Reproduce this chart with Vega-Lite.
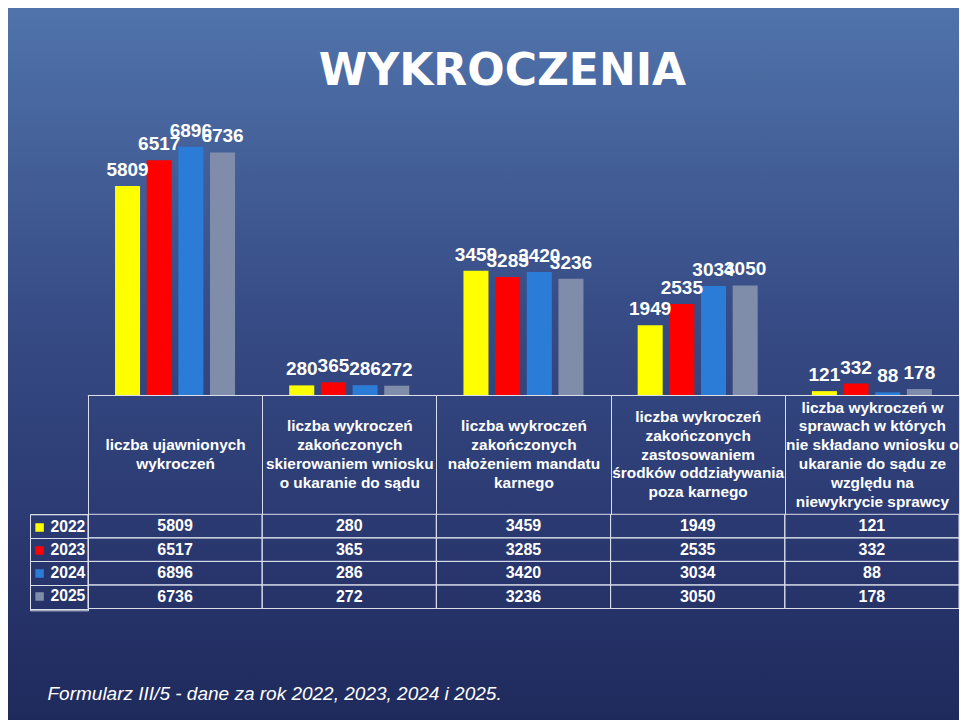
{
  "$schema": "https://vega.github.io/schema/vega-lite/v6.json",
  "width": 960,
  "height": 720,
  "autosize": {"type": "fit", "contains": "padding"},
  "padding": {"top": 8, "left": 8, "right": 0, "bottom": 0},
  "background": "white",
  "config": {
    "view": {
      "stroke": null,
      "fill": {
        "gradient": "linear", "x1": 0, "y1": 0, "x2": 0, "y2": 1,
        "stops": [
          {"offset": 0, "color": "#5073ab"},
          {"offset": 0.45, "color": "#364a84"},
          {"offset": 0.75, "color": "#2a3870"},
          {"offset": 1, "color": "#1f2a5c"}
        ]
      }
    },
    "font": "Liberation Sans"
  },
  "title": {
    "text": "WYKROCZENIA",
    "font": "DejaVu Sans",
    "fontSize": 44,
    "fontWeight": "bold",
    "color": "white",
    "anchor": "middle",
    "baseline": "alphabetic",
    "offset": -121,
    "dx": 19
  },
  "data": {
    "values": [
      {"category": "liczba ujawnionych\nwykroczeń", "year": "2022", "value": 5809},
      {"category": "liczba ujawnionych\nwykroczeń", "year": "2023", "value": 6517},
      {"category": "liczba ujawnionych\nwykroczeń", "year": "2024", "value": 6896},
      {"category": "liczba ujawnionych\nwykroczeń", "year": "2025", "value": 6736},
      {"category": "liczba wykroczeń\nzakończonych\nskierowaniem wniosku\no ukaranie do sądu", "year": "2022", "value": 280},
      {"category": "liczba wykroczeń\nzakończonych\nskierowaniem wniosku\no ukaranie do sądu", "year": "2023", "value": 365},
      {"category": "liczba wykroczeń\nzakończonych\nskierowaniem wniosku\no ukaranie do sądu", "year": "2024", "value": 286},
      {"category": "liczba wykroczeń\nzakończonych\nskierowaniem wniosku\no ukaranie do sądu", "year": "2025", "value": 272},
      {"category": "liczba wykroczeń\nzakończonych\nnałożeniem mandatu\nkarnego", "year": "2022", "value": 3459},
      {"category": "liczba wykroczeń\nzakończonych\nnałożeniem mandatu\nkarnego", "year": "2023", "value": 3285},
      {"category": "liczba wykroczeń\nzakończonych\nnałożeniem mandatu\nkarnego", "year": "2024", "value": 3420},
      {"category": "liczba wykroczeń\nzakończonych\nnałożeniem mandatu\nkarnego", "year": "2025", "value": 3236},
      {"category": "liczba wykroczeń\nzakończonych\nzastosowaniem\nśrodków oddziaływania\npoza karnego", "year": "2022", "value": 1949},
      {"category": "liczba wykroczeń\nzakończonych\nzastosowaniem\nśrodków oddziaływania\npoza karnego", "year": "2023", "value": 2535},
      {"category": "liczba wykroczeń\nzakończonych\nzastosowaniem\nśrodków oddziaływania\npoza karnego", "year": "2024", "value": 3034},
      {"category": "liczba wykroczeń\nzakończonych\nzastosowaniem\nśrodków oddziaływania\npoza karnego", "year": "2025", "value": 3050},
      {"category": "liczba wykroczeń w\nsprawach w których\nnie składano wniosku o\nukaranie do sądu ze\nwzględu na\nniewykrycie sprawcy", "year": "2022", "value": 121},
      {"category": "liczba wykroczeń w\nsprawach w których\nnie składano wniosku o\nukaranie do sądu ze\nwzględu na\nniewykrycie sprawcy", "year": "2023", "value": 332},
      {"category": "liczba wykroczeń w\nsprawach w których\nnie składano wniosku o\nukaranie do sądu ze\nwzględu na\nniewykrycie sprawcy", "year": "2024", "value": 88},
      {"category": "liczba wykroczeń w\nsprawach w których\nnie składano wniosku o\nukaranie do sądu ze\nwzględu na\nniewykrycie sprawcy", "year": "2025", "value": 178}
    ]
  },
  "layer": [
    {
      "encoding": {
        "x": {
          "field": "category", "type": "nominal", "sort": null,
          "scale": {"paddingInner": 0, "paddingOuter": 0.2294, "align": 1},
          "axis": {
            "orient": "bottom", "offset": -324.5, "domain": false, "grid": false,
            "ticks": true, "tickBand": "extent", "tickSize": 119, "tickColor": "#d9dee9", "tickWidth": 1,
            "labels": true,
            "labelExpr": "datum.value ? split(slice('\u200b\\n\u200b\\n\u200b\\n\u200b\\n\u200b\\n', 0, 2 * (6 - length(split(datum.value, '\\n')))) + replace(datum.value, regexp('\\n', 'g'), '\\n\u200b\\n'), '\\n') : ''",
            "labelPadding": -107.5,
            "labelBaseline": "middle", "labelLineHeight": 9.4, "labelAngle": 0,
            "labelFont": "Liberation Sans", "labelFontWeight": "bold", "labelFontSize": 15.4, "labelColor": "white",
            "labelLimit": 0, "labelOverlap": false, "labelBound": false, "labelFlush": false,
            "title": null
          }
        }
      },
      "layer": [
        {
          "mark": {"type": "bar"},
          "encoding": {
            "xOffset": {"field": "year", "type": "nominal", "scale": {"paddingInner": 0.21, "paddingOuter": 0.856}},
            "y": {"field": "value", "type": "quantitative", "scale": {"domain": [-8994, 10740], "nice": false, "zero": false}, "axis": null},
            "color": {
              "field": "year", "type": "nominal",
              "scale": {"domain": ["2022", "2023", "2024", "2025"], "range": ["#ffff00", "#ff0000", "#2b7cd6", "#7f8daa"]},
              "legend": {
                "orient": "none", "legendX": 22, "legendY": 506.3, "title": null,
                "symbolType": "square", "symbolSize": 72, "symbolStrokeWidth": 0, "symbolOpacity": 1,
                "labelColor": "white", "labelFont": "Liberation Sans", "labelFontWeight": "bold", "labelFontSize": 15.7,
                "labelOffset": 3, "clipHeight": 22.7, "rowPadding": 0, "padding": 1.75,
                "strokeColor": "#d9dee9"
              }
            }
          }
        },
        {
          "mark": {"type": "text", "color": "white", "font": "Liberation Sans", "fontWeight": "bold", "fontSize": 19, "baseline": "alphabetic", "dy": -10},
          "encoding": {
            "xOffset": {"field": "year", "type": "nominal"},
            "y": {"field": "value", "type": "quantitative"},
            "text": {"field": "value", "type": "quantitative"}
          }
        },
        {
          "transform": [{"filter": "datum.year == '2022'"}],
          "mark": {"type": "bar", "fillOpacity": 0, "stroke": "#d9dee9", "strokeWidth": 1},
          "encoding": {
            "y": {"datum": 0, "type": "quantitative"},
            "y2": {"datum": 0}
          }
        }
      ]
    },
    {
      "encoding": {
        "x": {
          "field": "category", "type": "nominal", "sort": null,
          "axis": {
            "orient": "bottom", "offset": -21, "domain": false, "ticks": false, "labels": false, "grid": false,
            "title": "Formularz III/5 - dane za rok 2022, 2023, 2024 i 2025.",
            "titleFont": "Liberation Sans", "titleFontStyle": "italic", "titleFontWeight": "normal", "titleFontSize": 19,
            "titleColor": "white", "titleX": 39, "titleY": 0, "titleAlign": "left", "titleBaseline": "alphabetic", "titleAnchor": "start"
          }
        },
        "y": {
          "field": "year", "type": "ordinal", "sort": ["2022", "2023", "2024", "2025"],
          "scale": {"paddingInner": 0, "paddingOuter": 0, "range": [506.3, 600.5]},
          "axis": {
            "orient": "left", "offset": -80, "domain": false, "grid": false,
            "ticks": true, "tickBand": "extent", "tickSize": 58, "tickColor": "#d9dee9", "tickWidth": 1,
            "labels": false, "title": null
          }
        }
      },
      "layer": [
        {
          "mark": {"type": "rect", "fillOpacity": 0, "stroke": "#d9dee9", "strokeWidth": 1}
        },
        {
          "mark": {"type": "text", "color": "white", "font": "Liberation Sans", "fontWeight": "bold", "fontSize": 16, "baseline": "middle"},
          "encoding": {
            "text": {"field": "value", "type": "quantitative"}
          }
        }
      ]
    }
  ],
  "resolve": {
    "scale": {"y": "independent"},
    "axis": {"x": "independent", "y": "independent"}
  }
}
